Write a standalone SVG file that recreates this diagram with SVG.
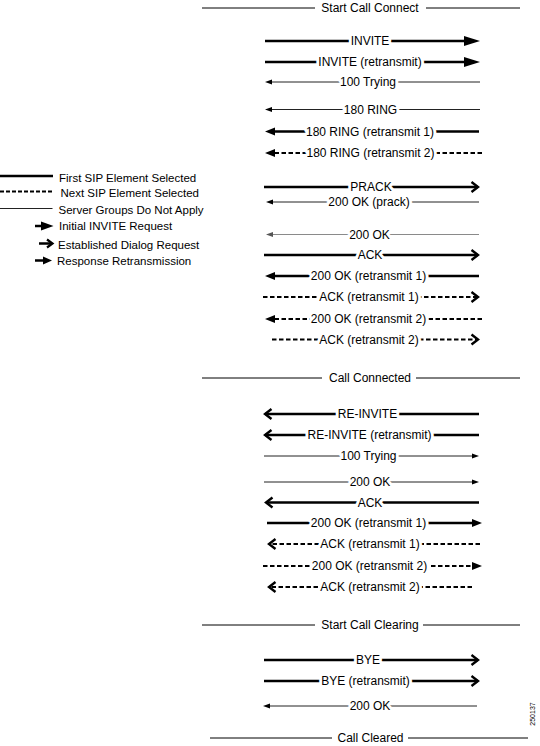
<svg xmlns="http://www.w3.org/2000/svg" width="540" height="746" viewBox="0 0 540 746">
<style>
text{font-family:"Liberation Sans",Arial,sans-serif;fill:#000}
.lbl{font-size:12px;text-anchor:middle;paint-order:stroke;stroke:#fff;stroke-width:6px;stroke-linejoin:round}
.hdr{font-size:12px;text-anchor:middle}
.leg{font-size:11.5px}
.bg{fill:#fff}
.hl{stroke:#000;stroke-width:1}
.thick{stroke:#000;stroke-width:2.5;fill:none}
.dash{stroke:#000;stroke-width:2;stroke-dasharray:4.5 2.5;fill:none}
.thin{stroke:#222;stroke-width:1;fill:none}
.gray{stroke:#8a8a8a;stroke-width:1;fill:none}
.tri{marker-end:url(#tri)}
.chev{marker-end:url(#chev)}
.resp{marker-end:url(#resp)}
.sm{marker-end:url(#sm)}
.smg{marker-end:url(#smg)}
</style>
<defs>
<marker id="tri" markerUnits="userSpaceOnUse" markerWidth="16" markerHeight="10" refX="8" refY="5" orient="auto" overflow="visible"><path d="M0,0 L16,5 L0,10 z" fill="#000"/></marker>
<marker id="chev" markerUnits="userSpaceOnUse" markerWidth="8" markerHeight="11" refX="7" refY="5" orient="auto" overflow="visible"><path d="M0.5,0 L7,5 L0.5,10" fill="none" stroke="#000" stroke-width="2.4"/></marker>
<marker id="resp" markerUnits="userSpaceOnUse" markerWidth="10" markerHeight="8" refX="5" refY="4" orient="auto" overflow="visible"><path d="M0,0 L10,4 L0,8 z" fill="#000"/></marker>
<marker id="sm" markerUnits="userSpaceOnUse" markerWidth="7" markerHeight="5" refX="3" refY="2.5" orient="auto" overflow="visible"><path d="M0,0 L7,2.5 L0,5 z" fill="#000"/></marker>
<marker id="smg" markerUnits="userSpaceOnUse" markerWidth="7" markerHeight="5" refX="3" refY="2.5" orient="auto" overflow="visible"><path d="M0,0 L7,2.5 L0,5 z" fill="#555"/></marker>
</defs>
<rect width="540" height="746" fill="#fff"/>

<g id="legend">
<line class="thick" x1="0" y1="176" x2="53" y2="176"/>
<text class="leg" x="59" y="181.5">First SIP Element Selected</text>
<line class="dash" x1="0" y1="191.5" x2="54" y2="191.5" style="stroke-dasharray:4 2"/>
<text class="leg" x="60.5" y="197">Next SIP Element Selected</text>
<line class="thin" x1="0" y1="208.5" x2="52.5" y2="208.5"/>
<text class="leg" x="58.5" y="214">Server Groups Do Not Apply</text>
<line class="thick" x1="35" y1="226" x2="43" y2="226"/>
<polygon points="41,221.5 53.5,226 41,230.5" fill="#000"/>
<text class="leg" x="59" y="230">Initial INVITE Request</text>
<line class="thick" x1="39" y1="243.5" x2="51" y2="243.5"/>
<path d="M47,239.5 L52.5,243.5 L47,247.5" fill="none" stroke="#000" stroke-width="2.2"/>
<text class="leg" x="58" y="248.5">Established Dialog Request</text>
<line class="thick" x1="35" y1="260.5" x2="45" y2="260.5"/>
<polygon points="43,256.5 52,260.5 43,264.5" fill="#000"/>
<text class="leg" x="57" y="265">Response Retransmission</text>
</g>

<g id="headers">
<g id="start-call-connect">
<line class="hl" x1="202" y1="8" x2="315" y2="8"/><line class="hl" x1="426" y1="8" x2="520" y2="8"/>
<text class="hdr" x="370" y="12.3">Start Call Connect</text>
</g>
<g id="call-connected">
<line class="hl" x1="202" y1="378" x2="322" y2="378"/><line class="hl" x1="416" y1="378" x2="520" y2="378"/>
<text class="hdr" x="370" y="382.3">Call Connected</text>
</g>
<g id="start-call-clearing">
<line class="hl" x1="202" y1="625" x2="315" y2="625"/><line class="hl" x1="423" y1="625" x2="520" y2="625"/>
<text class="hdr" x="370" y="629.3">Start Call Clearing</text>
</g>
<g id="call-cleared">
<line class="hl" x1="210" y1="738" x2="332" y2="738"/><line class="hl" x1="408" y1="738" x2="528" y2="738"/>
<text class="hdr" x="370.5" y="742.3">Call Cleared</text>
</g>
</g>

<g id="connectors">
<g id="m-invite"><line class="thick tri" x1="265" y1="41" x2="472" y2="41"/><rect class="bg" x="353.65" y="38.5" width="32.7" height="5"/><text class="lbl" x="370" y="45">INVITE</text></g>
<g id="m-invite-rt"><line class="thick tri" x1="265" y1="62" x2="472" y2="62"/><rect class="bg" x="321.35" y="59.5" width="97.3" height="5"/><text class="lbl" x="370" y="66">INVITE (retransmit)</text></g>
<g id="m-100"><line class="thin sm" x1="480" y1="82" x2="269" y2="82"/><rect class="bg" x="342.65" y="79.5" width="50.7" height="5"/><text class="lbl" x="368" y="86">100 Trying</text></g>
<g id="m-180"><line class="thin sm" x1="480" y1="109.5" x2="269" y2="109.5"/><rect class="bg" x="346.8" y="107" width="47.4" height="5"/><text class="lbl" x="370.5" y="113.5">180 RING</text></g>
<g id="m-180-rt1"><line class="thick resp" x1="479" y1="131.5" x2="270" y2="131.5"/><rect class="bg" x="309" y="129" width="122" height="5"/><text class="lbl" x="370" y="135.5">180 RING (retransmit 1)</text></g>
<g id="m-180-rt2"><line class="dash resp" x1="482" y1="153" x2="270" y2="153"/><rect class="bg" x="309.5" y="150.5" width="122" height="5"/><text class="lbl" x="370.5" y="157">180 RING (retransmit 2)</text></g>
<g id="m-prack"><line class="thick chev" x1="264" y1="187" x2="478" y2="187"/><rect class="bg" x="353.35" y="184.5" width="35.3" height="5"/><text class="lbl" x="371" y="191">PRACK</text></g>
<g id="m-200-prack"><line class="thin sm" x1="479" y1="202" x2="270" y2="202"/><rect class="bg" x="331.3" y="199.5" width="75.4" height="5"/><text class="lbl" x="369" y="206">200 OK (prack)</text></g>
<g id="m-200"><line class="gray smg" x1="479" y1="234.5" x2="270" y2="234.5"/><rect class="bg" x="352.15" y="232" width="34.7" height="5"/><text class="lbl" x="369.5" y="238.5">200 OK</text></g>
<g id="m-ack"><line class="thick chev" x1="264" y1="255" x2="478" y2="255"/><rect class="bg" x="360.65" y="252.5" width="18.7" height="5"/><text class="lbl" x="370" y="259">ACK</text></g>
<g id="m-200-rt1"><line class="thick resp" x1="479" y1="276" x2="270" y2="276"/><rect class="bg" x="313.8" y="273.5" width="109.4" height="5"/><text class="lbl" x="368.5" y="280">200 OK (retransmit 1)</text></g>
<g id="m-ack-rt1"><line class="dash chev" x1="263" y1="297" x2="478" y2="297"/><rect class="bg" x="322.35" y="294.5" width="93.3" height="5"/><text class="lbl" x="369" y="301">ACK (retransmit 1)</text></g>
<g id="m-200-rt2"><line class="dash resp" x1="482" y1="319" x2="270" y2="319"/><rect class="bg" x="313.8" y="316.5" width="109.4" height="5"/><text class="lbl" x="368.5" y="323">200 OK (retransmit 2)</text></g>
<g id="m-ack-rt2"><line class="dash chev" x1="272" y1="339.5" x2="478" y2="339.5"/><rect class="bg" x="322.35" y="337" width="93.3" height="5"/><text class="lbl" x="369" y="343.5">ACK (retransmit 2)</text></g>

<g id="m-reinvite"><line class="thick chev" x1="479" y1="414" x2="265" y2="414"/><rect class="bg" x="340.85" y="411.5" width="53.3" height="5"/><text class="lbl" x="367.5" y="418">RE-INVITE</text></g>
<g id="m-reinvite-rt"><line class="thick chev" x1="479" y1="435" x2="265" y2="435"/><rect class="bg" x="310.5" y="432.5" width="118" height="5"/><text class="lbl" x="369.5" y="439">RE-INVITE (retransmit)</text></g>
<g id="m-100-b"><line class="thin sm" x1="264" y1="456" x2="475" y2="456"/><rect class="bg" x="343.15" y="453.5" width="50.7" height="5"/><text class="lbl" x="368.5" y="460">100 Trying</text></g>
<g id="m-200-b"><line class="thin sm" x1="264" y1="482" x2="475" y2="482"/><rect class="bg" x="352.65" y="479.5" width="34.7" height="5"/><text class="lbl" x="370" y="486">200 OK</text></g>
<g id="m-ack-b"><line class="thick chev" x1="479" y1="502.5" x2="266" y2="502.5"/><rect class="bg" x="360.65" y="500" width="18.7" height="5"/><text class="lbl" x="370" y="506.5">ACK</text></g>
<g id="m-200-rt1-b"><line class="thick resp" x1="267" y1="523" x2="477" y2="523"/><rect class="bg" x="313.8" y="520.5" width="109.4" height="5"/><text class="lbl" x="368.5" y="527">200 OK (retransmit 1)</text></g>
<g id="m-ack-rt1-b"><line class="dash chev" x1="480" y1="544" x2="269" y2="544"/><rect class="bg" x="323.35" y="541.5" width="93.3" height="5"/><text class="lbl" x="370" y="548">ACK (retransmit 1)</text></g>
<g id="m-200-rt2-b"><line class="dash resp" x1="263" y1="566" x2="477" y2="566"/><rect class="bg" x="314.8" y="563.5" width="109.4" height="5"/><text class="lbl" x="369.5" y="570">200 OK (retransmit 2)</text></g>
<g id="m-ack-rt2-b"><line class="dash chev" x1="472" y1="587" x2="269" y2="587"/><rect class="bg" x="323.35" y="584.5" width="93.3" height="5"/><text class="lbl" x="370" y="591">ACK (retransmit 2)</text></g>

<g id="m-bye"><line class="thick chev" x1="264" y1="660" x2="478" y2="660"/><rect class="bg" x="359" y="657.5" width="18" height="5"/><text class="lbl" x="368" y="664">BYE</text></g>
<g id="m-bye-rt"><line class="thick chev" x1="264" y1="681" x2="478" y2="681"/><rect class="bg" x="324.15" y="678.5" width="82.7" height="5"/><text class="lbl" x="365.5" y="685">BYE (retransmit)</text></g>
<g id="m-200-c"><line class="thin sm" x1="477" y1="706" x2="267" y2="706"/><rect class="bg" x="352.65" y="703.5" width="34.7" height="5"/><text class="lbl" x="370" y="710">200 OK</text></g>
</g>

<text x="534.5" y="714" transform="rotate(-90 534.5 714)" style="font-size:7px;text-anchor:middle">250137</text>
</svg>
